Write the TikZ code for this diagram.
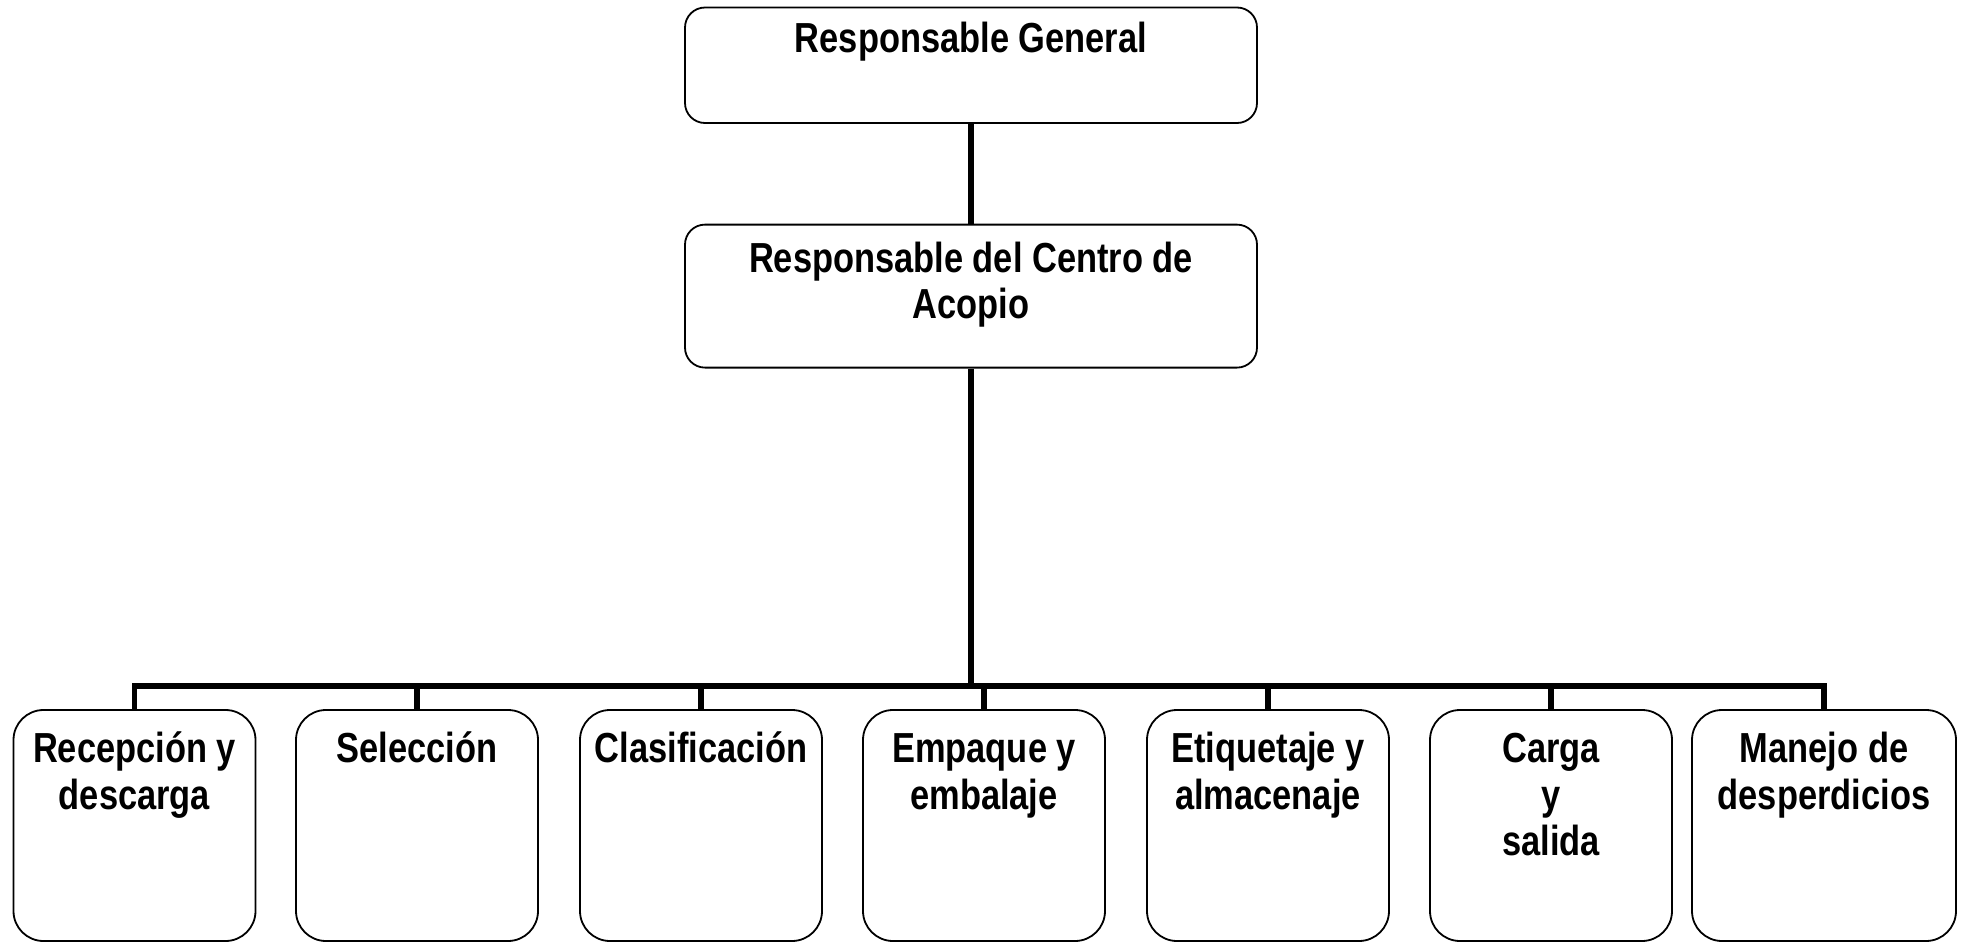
\documentclass[tikz,border=0pt]{standalone}
\usepackage{fontspec}
\setmainfont{Liberation Sans}[FakeStretch=0.82]
\newcommand\orgtext[4]{\parbox[c][#2][t]{#1}{\centering\rule{0pt}{#3}#4}}
\begin{document}
\begin{tikzpicture}[x=0.5pt,y=-0.5pt,
  every node/.style={font=\bfseries\fontsize{21}{23.2}\selectfont},
  orgbox/.style={draw, line width=0.9pt, rounded corners=10pt, inner sep=0pt},
  leafbox/.style={draw, line width=0.9pt, rounded corners=15pt, inner sep=0pt},
  conn/.style={line width=2.7pt, line join=miter}]
\useasboundingbox (0,0) rectangle (1967,943);
\node[orgbox] (top) at (971,65.25) {\orgtext{286pt}{57.75pt}{22.6pt}{Responsable General}};
\node[orgbox] (mid) at (971,296.1) {\orgtext{286pt}{71.5pt}{23.8pt}{Responsable del Centro de\\Acopio}};
\node[leafbox] (b1) at (134.5,825.5) {\orgtext{121pt}{115.5pt}{26.4pt}{Recepción y\\descarga}};
\node[leafbox] (b2) at (417,825.5) {\orgtext{121pt}{115.5pt}{26.4pt}{Selección}};
\node[leafbox] (b3) at (701,825.5) {\orgtext{121pt}{115.5pt}{26.4pt}{Clasificación}};
\node[leafbox] (b4) at (984,825.5) {\orgtext{121pt}{115.5pt}{26.4pt}{Empaque y\\embalaje}};
\node[leafbox] (b5) at (1268,825.5) {\orgtext{121pt}{115.5pt}{26.4pt}{Etiquetaje y\\almacenaje}};
\node[leafbox] (b6) at (1551,825.5) {\orgtext{121pt}{115.5pt}{26.4pt}{Carga\\y\\salida}};
\node[leafbox] (b7) at (1824,825.5) {\orgtext{132pt}{115.5pt}{26.4pt}{Manejo de\\desperdicios}};
\coordinate (bus) at (971,686);
\draw[conn] (top.south) -- (mid.north);
\draw[conn] (mid.south) -- (mid.south |- bus);
\draw[conn] (b1.north) -- (b1.north |- bus) -- (b7.north |- bus) -- (b7.north);
\foreach \i in {2,3,4,5,6}{\draw[conn] (b\i.north) -- (b\i.north |- bus);}
\end{tikzpicture}
\end{document}
